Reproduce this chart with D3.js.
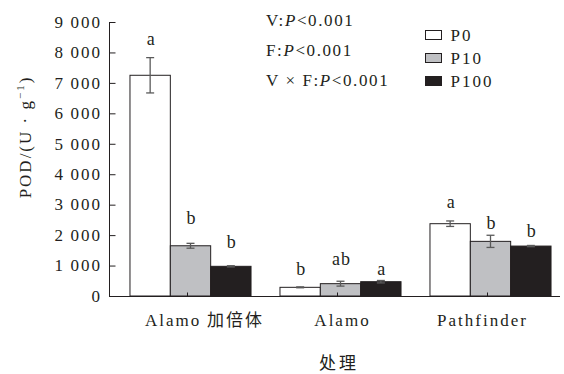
<!DOCTYPE html>
<html>
<head>
<meta charset="utf-8">
<script src="https://cdn.jsdelivr.net/npm/d3@7"></script>
<style>
  body { margin: 0; background: #fff; }
  svg { display: block; }
  text { font-family: "Liberation Serif", "Times New Roman", Times, serif; fill: #231f20; }
  text .cjk, text.cjk { font-family: "Noto Sans CJK SC", sans-serif; }
</style>
</head>
<body>
<svg></svg>
<script>
// data
const groups = ["Alamo 加倍体", "Alamo", "Pathfinder"];
const series = ["P0", "P10", "P100"];
const meanP0 = [7250, 285, 2375];
const meanP10 = [1650, 405, 1795];
const meanP100 = [975, 470, 1640];
const errP0 = [580, 15, 90];
const errP10 = [80, 80, 200];
const errP100 = [20, 40, 20];
const letterP0 = ["a", "b", "a"];
const letterP10 = ["b", "ab", "b"];
const letterP100 = ["b", "a", "b"];
const yTicks = [0, 1000, 2000, 3000, 4000, 5000, 6000, 7000, 8000, 9000];
const stats = ["V:", "F:", "V × F:"];

// layout bits
const width = 564, height = 374;
const letterLift = [[13, 12, 13], [19, 16, 6], [18, 5, 8]];
const labelShift = [14, 2, -8];
const fills = ["#ffffff", "#bfc0c3", "#231f20"];

const means = [meanP0, meanP10, meanP100];
const errs = [errP0, errP10, errP100];
const letters = [letterP0, letterP10, letterP100];

const svg = d3.select("svg").attr("width", width).attr("height", height);
svg.append("rect").attr("width", width).attr("height", height).attr("fill", "#fff");

const yScale = d3.scaleLinear().domain([0, 9000]).range([296, 22]);
const xScale = d3.scaleBand().domain(groups).range([115.5, 565.5])
  .paddingInner(0.193).paddingOuter(0.0965);
const xSub = d3.scaleBand().domain(series).range([0, xScale.bandwidth()]);

// bars
const rows = [];
series.forEach((s, si) => {
  groups.forEach((g, gi) => {
    rows.push({ s, si, g, gi, v: means[si][gi], e: errs[si][gi], l: letters[si][gi] });
  });
});

svg.selectAll(".bar").data(rows).enter().append("rect")
  .attr("class", "bar")
  .attr("x", d => xScale(d.g) + xSub(d.s))
  .attr("y", d => yScale(d.v))
  .attr("width", xSub.bandwidth())
  .attr("height", d => yScale(0) - yScale(d.v))
  .attr("fill", d => fills[d.si])
  .attr("stroke", "#231f20")
  .attr("stroke-width", 1);

// error bars
const cx = d => xScale(d.g) + xSub(d.s) + xSub.bandwidth() / 2;
const eb = svg.selectAll(".err").data(rows.filter(d => d.e > 0)).enter().append("g")
  .attr("class", "err").attr("stroke", "#5a5a5a").attr("stroke-width", 1.3);
eb.append("line").attr("x1", cx).attr("x2", cx)
  .attr("y1", d => yScale(d.v + d.e)).attr("y2", d => yScale(d.v - d.e));
eb.append("line").attr("x1", d => cx(d) - 4).attr("x2", d => cx(d) + 4)
  .attr("y1", d => yScale(d.v + d.e)).attr("y2", d => yScale(d.v + d.e));
eb.append("line").attr("x1", d => cx(d) - 4).attr("x2", d => cx(d) + 4)
  .attr("y1", d => yScale(d.v - d.e)).attr("y2", d => yScale(d.v - d.e));

// significance letters
svg.selectAll(".sig").data(rows).enter().append("text")
  .attr("class", "sig")
  .attr("x", d => cx(d) + 1)
  .attr("y", d => yScale(d.v + d.e) - letterLift[d.si][d.gi])
  .attr("text-anchor", "middle")
  .style("font-size", "18px")
  .style("letter-spacing", "1px")
  .text(d => d.l);

// y axis
const yAxis = svg.append("g").attr("class", "yAxis").attr("transform", "translate(109.5,0)")
  .call(d3.axisRight(yScale).tickValues(yTicks).tickSize(6).tickFormat(() => ""));
yAxis.select(".domain").attr("d", `M0,${yScale(9000)}V${yScale(0) + 1}`).attr("stroke", "#231f20");
yAxis.selectAll(".tick line").attr("stroke", "#231f20");
svg.selectAll(".ylab").data(yTicks).enter().append("text")
  .attr("class", "ylab")
  .attr("x", 102)
  .attr("y", d => yScale(d))
  .attr("dy", "0.34em")
  .attr("text-anchor", "end")
  .style("font-size", "17px")
  .style("letter-spacing", "2px")
  .text(d => d >= 1000 ? Math.floor(d / 1000) + "\u2009" + "000" : "0");

// x axis
const xAxis = svg.append("g").attr("class", "xAxis").attr("transform", "translate(0,296.5)")
  .call(d3.axisTop(xScale).tickSize(4).tickFormat(() => ""));
xAxis.select(".domain").attr("d", "M109,0H560").attr("stroke", "#231f20");
xAxis.selectAll(".tick line").attr("stroke", "#231f20").attr("transform", "translate(-3,0)");

const xl = svg.selectAll(".xlab").data(groups).enter().append("text")
  .attr("class", "xlab")
  .attr("x", (d, i) => xScale(d) + xScale.bandwidth() / 2 + labelShift[i])
  .attr("y", 326)
  .attr("text-anchor", "middle")
  .style("font-size", "17px")
  .style("letter-spacing", "2px");
xl.each(function (d) {
  const parts = d.split(" ");
  const t = d3.select(this);
  t.append("tspan").text(parts[0]);
  if (parts[1]) t.append("tspan").attr("class", "cjk").text(" " + parts[1]);
});

svg.append("text")
  .attr("class", "cjk")
  .attr("x", 339).attr("y", 369)
  .attr("text-anchor", "middle")
  .style("font-size", "17px")
  .style("letter-spacing", "3px")
  .text("处理");

// y title
const yt = svg.append("text")
  .attr("transform", "translate(31,137) rotate(-90)")
  .attr("text-anchor", "middle")
  .style("font-size", "17px")
  .style("letter-spacing", "2px");
yt.append("tspan").text("POD/(U · g");
yt.append("tspan").attr("dy", -7).style("font-size", "11px").text("−1");
yt.append("tspan").attr("dy", 7).text(")");

// anova stats
stats.forEach((s, i) => {
  const t = svg.append("text").attr("x", 266).attr("y", 26 + i * 30)
    .style("font-size", "17px").style("letter-spacing", "1.6px");
  t.append("tspan").text(s);
  t.append("tspan").style("font-style", "italic").text("P");
  t.append("tspan").text("<0.001");
});

// legend
const leg = svg.selectAll(".leg").data(series).enter().append("g")
  .attr("class", "leg")
  .attr("transform", (d, i) => `translate(425.5,${30.5 + i * 23})`);
leg.append("rect").attr("width", 16).attr("height", 9)
  .attr("fill", (d, i) => fills[i]).attr("stroke", "#231f20");
leg.append("text").attr("x", 25).attr("y", 10)
  .style("font-size", "17px").style("letter-spacing", "2px")
  .text(d => d);
</script>
</body>
</html>
